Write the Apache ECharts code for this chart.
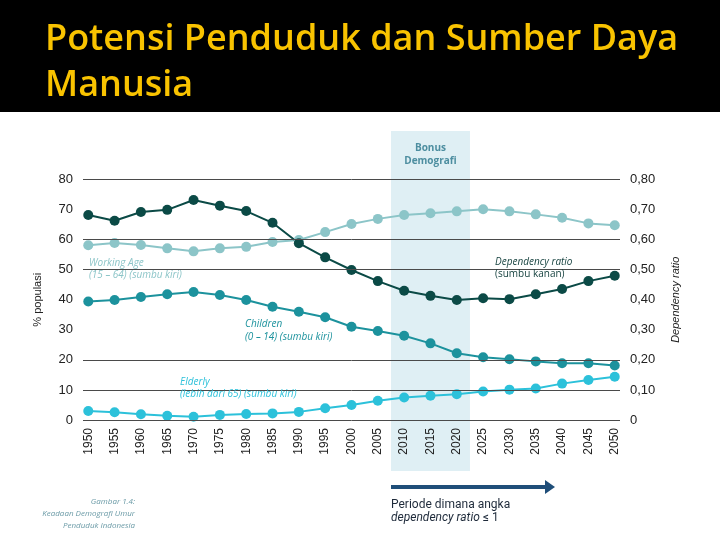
<!DOCTYPE html>
<html>
<head>
<meta charset="utf-8">
<script src="https://cdn.jsdelivr.net/npm/echarts@6/dist/echarts.min.js"></script>
<style>
html,body{margin:0;padding:0;background:#fff;}
#chart{width:720px;height:540px;}
</style>
</head>
<body>
<div id="chart"></div>
<script>
const years = [1950,1955,1960,1965,1970,1975,1980,1985,1990,1995,2000,2005,2010,2015,2020,2025,2030,2035,2040,2045,2050];
const workingAge = [58.1,58.9,58.2,57.1,56.1,57.1,57.6,59.2,59.9,62.5,65.2,66.9,68.2,68.8,69.4,70.1,69.4,68.4,67.3,65.4,64.8];
const children = [39.4,39.9,40.9,41.8,42.6,41.6,39.9,37.7,36.0,34.2,31.0,29.6,28.0,25.5,22.2,20.9,20.2,19.5,18.9,18.9,18.1];
const elderly = [3.0,2.6,1.9,1.4,1.1,1.7,2.0,2.2,2.7,3.9,5.0,6.4,7.5,8.1,8.6,9.5,10.1,10.5,12.1,13.3,14.4];
const dependency = [0.682,0.663,0.692,0.699,0.732,0.713,0.695,0.656,0.588,0.541,0.499,0.462,0.430,0.413,0.399,0.405,0.402,0.418,0.436,0.462,0.480];
const gridValues = [0,10,20,50,60,80];
const bonusPeriod = [2007.5, 2022.5];
const title = 'Potensi Penduduk dan Sumber Daya\nManusia';

const pair = arr => years.map((y,i)=>[y,arr[i]]);
const C = {dep:'#0b4a46', work:'#8cc5c8', child:'#1c929d', eld:'#2cc1da'};

const chart = echarts.init(document.getElementById('chart'));
function mkSeries(name, data, color, yIdx){
  return {name, type:'line', data:pair(data), yAxisIndex:yIdx, z:3,
    symbol:'circle', symbolSize:10, lineStyle:{color, width:2}, itemStyle:{color}};
}
const option = {
  backgroundColor:'#ffffff',
  animation:false,
  title:{text:title, left:40, top:12, textStyle:{color:'#F9C300', fontSize:36, fontWeight:600, fontFamily:'Open Sans', lineHeight:46}},
  grid:{left:83, right:100, top:179.5, bottom:120, containLabel:false},
  xAxis:{type:'value', min:1949, max:2051,
    axisLine:{show:false}, axisTick:{show:false}, splitLine:{show:false},
    axisLabel:{customValues:years, rotate:90, color:'#222', fontSize:12, fontFamily:'Liberation Sans', margin:8,
      formatter:v=>String(v)}},
  yAxis:[
    {type:'value', min:0, max:80, interval:10, name:'% populasi', nameLocation:'middle', nameGap:40, nameRotate:90,
     nameTextStyle:{color:'#222', fontSize:11, fontFamily:'Liberation Sans'},
     axisLine:{show:false}, axisTick:{show:false}, splitLine:{show:false},
     axisLabel:{color:'#222', fontSize:13, fontFamily:'Liberation Sans', margin:10}},
    {type:'value', min:0, max:0.8, interval:0.1, name:'Dependency ratio', nameLocation:'middle', nameGap:50, nameRotate:90,
     nameTextStyle:{color:'#222', fontSize:11, fontStyle:'italic', fontFamily:'Liberation Sans'},
     axisLine:{show:false}, axisTick:{show:false}, splitLine:{show:false},
     axisLabel:{color:'#222', fontSize:13, fontFamily:'Liberation Sans', margin:10,
       formatter:v=> v===0 ? '0' : v.toFixed(2).replace('.', ',')}}
  ],
  series:[
    {type:'line', data:[], z:1, markLine:{silent:true, symbol:'none', label:{show:false},
      lineStyle:{color:'#4a4a4a', width:1, type:'solid'}, data:gridValues.map(v=>({yAxis:v}))}},
    mkSeries('Working Age', workingAge, C.work, 0),
    mkSeries('Children', children, C.child, 0),
    mkSeries('Elderly', elderly, C.eld, 0),
    mkSeries('Dependency ratio', dependency, C.dep, 1)
  ]
};
chart.setOption(option);

const x0 = chart.convertToPixel({xAxisIndex:0}, bonusPeriod[0]);
const x1 = chart.convertToPixel({xAxisIndex:0}, bonusPeriod[1]);
const it = {fontFamily:'Open Sans', fontStyle:'italic', fontSize:10};
function txt(x,y,text,color,extra){ return {type:'text', x, y, z:5, style:Object.assign({text, fill:color}, it, extra||{})}; }
chart.setOption({graphic:[
  {type:'rect', z:-1, shape:{x:0,y:0,width:720,height:112}, style:{fill:'#000'}},
  {type:'rect', z:-1, shape:{x:x0, y:131, width:x1-x0, height:340}, style:{fill:'#dfeff4'}},
  {type:'text', x:(x0+x1)/2, y:142, z:5, style:{text:'Bonus\nDemografi', fill:'#4d8ea0', fontFamily:'Open Sans', fontWeight:'bold', fontSize:10, lineHeight:13, align:'center'}},
  txt(89,257,'Working Age\n(15 – 64) (sumbu kiri)', C.work, {lineHeight:12}),
  txt(495,257,'Dependency ratio', '#123f3c'),
  txt(495,269,'(sumbu kanan)', '#123f3c', {fontStyle:'normal'}),
  txt(245,318,'Children\n(0 – 14) (sumbu kiri)', C.child, {lineHeight:13}),
  txt(180,376,'Elderly\n(lebih dari 65) (sumbu kiri)', C.eld, {lineHeight:12}),
  {type:'line', z:5, shape:{x1:391,y1:487,x2:546,y2:487}, style:{stroke:'#1f4e79', lineWidth:4}},
  {type:'polygon', z:5, shape:{points:[[545,480],[555,487],[545,494]]}, style:{fill:'#1f4e79'}},
  {type:'text', x:391, y:499, z:5, style:{text:'Periode dimana angka', fill:'#1e2a3a', fontFamily:'Roboto', fontSize:12}},
  {type:'text', x:391, y:512, z:5, style:{text:'{i|dependency ratio} ≤ 1', fill:'#1e2a3a', fontFamily:'Roboto', fontSize:12,
     rich:{i:{fontStyle:'italic', fontFamily:'Roboto', fontSize:12, fill:'#1e2a3a'}}}},
  {type:'text', x:135, y:496, z:5, style:{text:'Gambar 1.4:\nKeadaan Demografi Umur\nPenduduk Indonesia', fill:'#6a9aa6', fontFamily:'Open Sans', fontStyle:'italic', fontSize:8, lineHeight:12, align:'right'}}
]});
</script>
</body>
</html>
